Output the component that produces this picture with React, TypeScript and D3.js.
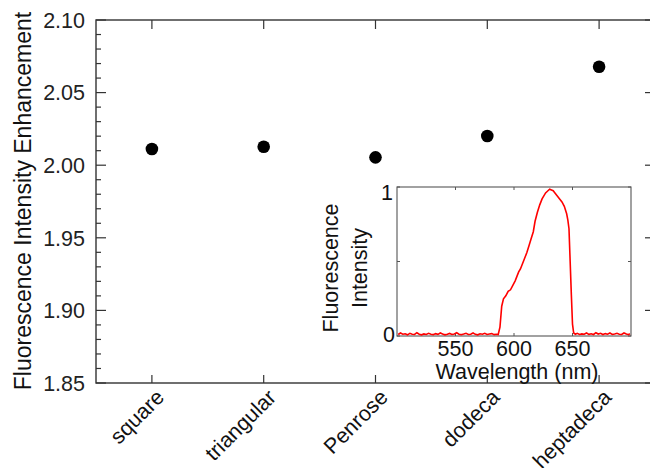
import React from 'react';
import * as d3 from 'd3';

// main panel
const categories = ['square', 'triangular', 'Penrose', 'dodeca', 'heptadeca'];
const enhancement = [2.0112, 2.0127, 2.0054, 2.0201, 2.0678];
const yTicks = [1.85, 1.9, 1.95, 2.0, 2.05, 2.1];

// inset spectrum
const wavelength = [
  501, 503, 505, 507, 509, 511, 513, 515, 517, 519, 521, 523, 525, 527, 529, 531, 533, 535,
  537, 539, 541, 543, 545, 547, 549, 551, 553, 555, 557, 559, 561, 563, 565, 567, 569, 571,
  573, 575, 577, 579, 581, 583, 585, 586.5, 588, 589.5, 591, 593, 595, 597, 599, 601, 602.5,
  604, 605.5, 607, 609, 611, 613, 614.5, 616.5, 618, 620, 622, 624, 625.5, 627, 629, 630.5,
  632, 633.5, 635, 637, 639, 641, 643, 645, 646, 647, 648, 649, 650, 651, 652.5, 654, 656,
  658, 660, 662, 664, 666, 668, 670, 672, 674, 676, 678, 680, 682, 684, 686, 688, 690, 692,
  694, 696, 698, 699,
];
const intensity = [
  0.01, 0.02, 0.012, 0.015, 0.008, 0.018, 0.012, 0.01, 0.022, 0.012, 0.008, 0.014, 0.01, 0.018,
  0.012, 0.009, 0.016, 0.011, 0.02, 0.013, 0.008, 0.012, 0.017, 0.01, 0.014, 0.022, 0.012, 0.009,
  0.013, 0.018, 0.01, 0.012, 0.02, 0.011, 0.008, 0.015, 0.012, 0.018, 0.01, 0.013, 0.016, 0.009,
  0.012, 0.01, 0.06, 0.2, 0.25, 0.27, 0.3, 0.31, 0.34, 0.37, 0.4, 0.43, 0.45, 0.48, 0.52, 0.56,
  0.61, 0.65, 0.7, 0.77, 0.83, 0.88, 0.92, 0.94, 0.96, 0.975, 0.985, 0.98, 0.975, 0.96, 0.94,
  0.92, 0.9, 0.87, 0.82, 0.78, 0.72, 0.5, 0.28, 0.08, 0.02, 0.012, 0.018, 0.01, 0.014, 0.012,
  0.02, 0.011, 0.015, 0.01, 0.022, 0.013, 0.018, 0.01, 0.016, 0.012, 0.02, 0.011, 0.014, 0.018,
  0.012, 0.01, 0.02, 0.013, 0.009, 0.016,
];
const insetXTicks = [550, 600, 650];

const W = 650;
const H = 468;
const FONT = 'Liberation Sans, Arial, sans-serif';
const AX = '#333';
const FS = 21.5;

export default function App() {
  const plot = { left: 96, right: 655, top: 20, bottom: 383 };
  const x = d3.scalePoint<string>().domain(categories).range([plot.left, plot.right]).padding(0.5);
  const y = d3.scaleLinear().domain([1.85, 2.1]).range([plot.bottom, plot.top]);
  const minor = d3.range(185, 211).map((v) => v / 100);

  const inset = { left: 397, right: 631, top: 187, bottom: 336 };
  const ix = d3.scaleLinear().domain([500, 700]).range([inset.left, inset.right]);
  const iy = d3.scaleLinear().domain([0, 1]).range([inset.bottom, inset.top]);
  const line = d3
    .line<number>()
    .x((_, i) => ix(wavelength[i]))
    .y((d) => iy(d));

  return (
    <svg
      width={W}
      height={H}
      style={{ position: 'fixed', left: 0, top: 0, background: '#fff' }}
      fontFamily={FONT}
    >
      {/* frame */}
      <rect
        x={plot.left}
        y={plot.top}
        width={plot.right - plot.left}
        height={plot.bottom - plot.top}
        fill="none"
        stroke={AX}
        strokeWidth={1.4}
      />
      {/* y ticks left and right */}
      {minor.map((v) => {
        const major = yTicks.some((t) => Math.abs(t - v) < 1e-6);
        const len = major ? 10 : 5;
        return (
          <g key={v}>
            <line x1={plot.left} x2={plot.left + len} y1={y(v)} y2={y(v)} stroke={AX} strokeWidth={1.2} />
            <line x1={plot.right} x2={plot.right - len} y1={y(v)} y2={y(v)} stroke={AX} strokeWidth={1.2} />
          </g>
        );
      })}
      {yTicks.map((t) => (
        <text key={t} x={plot.left - 11} y={y(t)} dy="0.36em" textAnchor="end" fontSize={FS} fill="#222">
          {t.toFixed(2)}
        </text>
      ))}
      <text
        transform="translate(31,201) rotate(-90)"
        textAnchor="middle"
        fontSize={23}
        fill="#111"
      >
        Fluorescence Intensity Enhancement
      </text>
      {/* x ticks top and bottom */}
      {categories.map((c) => (
        <g key={c}>
          <line x1={x(c)} x2={x(c)} y1={plot.bottom} y2={plot.bottom - 8} stroke={AX} strokeWidth={1.2} />
          <line x1={x(c)} x2={x(c)} y1={plot.top} y2={plot.top + 9} stroke={AX} strokeWidth={1.2} />
          <text
            transform={`translate(${(x(c) as number) + 3},${plot.bottom + 5}) rotate(-45)`}
            textAnchor="end"
            dy="0.7em"
            fontSize={FS}
            fill="#111"
          >
            {c}
          </text>
        </g>
      ))}
      {/* points */}
      {categories.map((c, i) => (
        <circle key={c} cx={x(c)} cy={y(enhancement[i])} r={6.3} fill="#000" />
      ))}

      {/* inset */}
      <rect
        x={inset.left}
        y={inset.top}
        width={inset.right - inset.left}
        height={inset.bottom - inset.top}
        fill="#fff"
        stroke="#555"
        strokeWidth={1.1}
      />
      {insetXTicks.map((t) => (
        <g key={t}>
          <line x1={ix(t)} x2={ix(t)} y1={inset.bottom} y2={inset.bottom - 3} stroke="#555" />
          <line x1={ix(t)} x2={ix(t)} y1={inset.top} y2={inset.top + 3} stroke="#555" />
          <text x={ix(t)} y={inset.bottom + 20} textAnchor="middle" fontSize={FS} fill="#111">
            {t}
          </text>
        </g>
      ))}
      {[0, 0.5, 1].map((t) => (
        <g key={t}>
          <line x1={inset.left} x2={inset.left + 3} y1={iy(t)} y2={iy(t)} stroke="#555" />
          <line x1={inset.right} x2={inset.right - 3} y1={iy(t)} y2={iy(t)} stroke="#555" />
        </g>
      ))}
      <text x={inset.left - 4} y={iy(1) + 5} dy="0.36em" textAnchor="end" fontSize={FS} fill="#111">
        1
      </text>
      <text x={inset.left - 2} y={iy(0) - 2} dy="0.36em" textAnchor="end" fontSize={FS} fill="#111">
        0
      </text>
      <text transform="translate(338,268) rotate(-90)" textAnchor="middle" fontSize={FS} fill="#111">
        <tspan x={0} dy={0}>Fluorescence</tspan>
        <tspan x={0} dy={29}>Intensity</tspan>
      </text>
      <text x={(inset.left + inset.right) / 2 + 3} y={inset.bottom + 43} textAnchor="middle" fontSize={FS} fill="#111">
        Wavelength (nm)
      </text>
      <path d={line(intensity) ?? ''} fill="none" stroke="#f00" strokeWidth={1.6} />
    </svg>
  );
}
